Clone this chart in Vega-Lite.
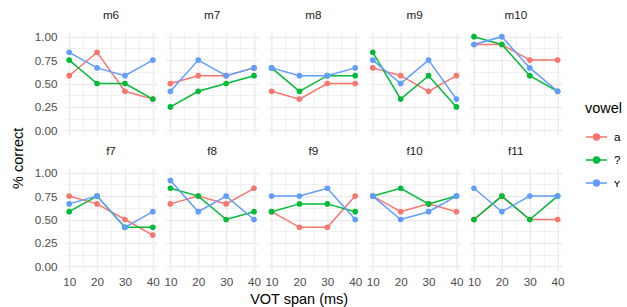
{
  "$schema": "https://vega.github.io/schema/vega-lite/v6.json",
  "padding": {"left": 10, "top": 10, "right": 5, "bottom": 1},
  "background": "white",
  "config": {
    "font": "Liberation Sans",
    "view": {"stroke": null},
    "axis": {"domain": false, "ticks": false, "labelColor": "#4D4D4D", "labelFontSize": 11.7, "gridColor": "#EBEBEB"},
    "header": {"labelFontSize": 11.7, "labelColor": "#1A1A1A", "labelFont": "Liberation Sans"},
    "title": {"fontSize": 14.5, "fontWeight": "normal", "color": "black", "font": "Liberation Sans"}
  },
  "title": {"text": "% correct", "orient": "left", "anchor": "middle", "offset": 8},
  "hconcat": [
    {
      "title": {"text": "VOT span (ms)", "orient": "bottom", "anchor": "middle", "offset": 5},
      "data": {"values": [
        {"s":"m6","v":"a","vot":10,"p":0.5833},{"s":"m6","v":"a","vot":20,"p":0.8333},{"s":"m6","v":"a","vot":30,"p":0.4167},{"s":"m6","v":"a","vot":40,"p":0.3333},
        {"s":"m6","v":"?","vot":10,"p":0.75},{"s":"m6","v":"?","vot":20,"p":0.5},{"s":"m6","v":"?","vot":30,"p":0.5},{"s":"m6","v":"?","vot":40,"p":0.3333},
        {"s":"m6","v":"ʏ","vot":10,"p":0.8333},{"s":"m6","v":"ʏ","vot":20,"p":0.6667},{"s":"m6","v":"ʏ","vot":30,"p":0.5833},{"s":"m6","v":"ʏ","vot":40,"p":0.75},
        {"s":"m7","v":"a","vot":10,"p":0.5},{"s":"m7","v":"a","vot":20,"p":0.5833},{"s":"m7","v":"a","vot":30,"p":0.5833},{"s":"m7","v":"a","vot":40,"p":0.6667},
        {"s":"m7","v":"?","vot":10,"p":0.25},{"s":"m7","v":"?","vot":20,"p":0.4167},{"s":"m7","v":"?","vot":30,"p":0.5},{"s":"m7","v":"?","vot":40,"p":0.5833},
        {"s":"m7","v":"ʏ","vot":10,"p":0.4167},{"s":"m7","v":"ʏ","vot":20,"p":0.75},{"s":"m7","v":"ʏ","vot":30,"p":0.5833},{"s":"m7","v":"ʏ","vot":40,"p":0.6667},
        {"s":"m8","v":"a","vot":10,"p":0.4167},{"s":"m8","v":"a","vot":20,"p":0.3333},{"s":"m8","v":"a","vot":30,"p":0.5},{"s":"m8","v":"a","vot":40,"p":0.5},
        {"s":"m8","v":"?","vot":10,"p":0.6667},{"s":"m8","v":"?","vot":20,"p":0.4167},{"s":"m8","v":"?","vot":30,"p":0.5833},{"s":"m8","v":"?","vot":40,"p":0.5833},
        {"s":"m8","v":"ʏ","vot":10,"p":0.6667},{"s":"m8","v":"ʏ","vot":20,"p":0.5833},{"s":"m8","v":"ʏ","vot":30,"p":0.5833},{"s":"m8","v":"ʏ","vot":40,"p":0.6667},
        {"s":"m9","v":"a","vot":10,"p":0.6667},{"s":"m9","v":"a","vot":20,"p":0.5833},{"s":"m9","v":"a","vot":30,"p":0.4167},{"s":"m9","v":"a","vot":40,"p":0.5833},
        {"s":"m9","v":"?","vot":10,"p":0.8333},{"s":"m9","v":"?","vot":20,"p":0.3333},{"s":"m9","v":"?","vot":30,"p":0.5833},{"s":"m9","v":"?","vot":40,"p":0.25},
        {"s":"m9","v":"ʏ","vot":10,"p":0.75},{"s":"m9","v":"ʏ","vot":20,"p":0.5},{"s":"m9","v":"ʏ","vot":30,"p":0.75},{"s":"m9","v":"ʏ","vot":40,"p":0.3333},
        {"s":"m10","v":"a","vot":10,"p":0.9167},{"s":"m10","v":"a","vot":20,"p":0.9167},{"s":"m10","v":"a","vot":30,"p":0.75},{"s":"m10","v":"a","vot":40,"p":0.75},
        {"s":"m10","v":"?","vot":10,"p":1.0},{"s":"m10","v":"?","vot":20,"p":0.9167},{"s":"m10","v":"?","vot":30,"p":0.5833},{"s":"m10","v":"?","vot":40,"p":0.4167},
        {"s":"m10","v":"ʏ","vot":10,"p":0.9167},{"s":"m10","v":"ʏ","vot":20,"p":1.0},{"s":"m10","v":"ʏ","vot":30,"p":0.6667},{"s":"m10","v":"ʏ","vot":40,"p":0.4167},
        {"s":"f7","v":"a","vot":10,"p":0.75},{"s":"f7","v":"a","vot":20,"p":0.6667},{"s":"f7","v":"a","vot":30,"p":0.5},{"s":"f7","v":"a","vot":40,"p":0.3333},
        {"s":"f7","v":"?","vot":10,"p":0.5833},{"s":"f7","v":"?","vot":20,"p":0.75},{"s":"f7","v":"?","vot":30,"p":0.4167},{"s":"f7","v":"?","vot":40,"p":0.4167},
        {"s":"f7","v":"ʏ","vot":10,"p":0.6667},{"s":"f7","v":"ʏ","vot":20,"p":0.75},{"s":"f7","v":"ʏ","vot":30,"p":0.4167},{"s":"f7","v":"ʏ","vot":40,"p":0.5833},
        {"s":"f8","v":"a","vot":10,"p":0.6667},{"s":"f8","v":"a","vot":20,"p":0.75},{"s":"f8","v":"a","vot":30,"p":0.6667},{"s":"f8","v":"a","vot":40,"p":0.8333},
        {"s":"f8","v":"?","vot":10,"p":0.8333},{"s":"f8","v":"?","vot":20,"p":0.75},{"s":"f8","v":"?","vot":30,"p":0.5},{"s":"f8","v":"?","vot":40,"p":0.5833},
        {"s":"f8","v":"ʏ","vot":10,"p":0.9167},{"s":"f8","v":"ʏ","vot":20,"p":0.5833},{"s":"f8","v":"ʏ","vot":30,"p":0.75},{"s":"f8","v":"ʏ","vot":40,"p":0.5},
        {"s":"f9","v":"a","vot":10,"p":0.5833},{"s":"f9","v":"a","vot":20,"p":0.4167},{"s":"f9","v":"a","vot":30,"p":0.4167},{"s":"f9","v":"a","vot":40,"p":0.75},
        {"s":"f9","v":"?","vot":10,"p":0.5833},{"s":"f9","v":"?","vot":20,"p":0.6667},{"s":"f9","v":"?","vot":30,"p":0.6667},{"s":"f9","v":"?","vot":40,"p":0.5833},
        {"s":"f9","v":"ʏ","vot":10,"p":0.75},{"s":"f9","v":"ʏ","vot":20,"p":0.75},{"s":"f9","v":"ʏ","vot":30,"p":0.8333},{"s":"f9","v":"ʏ","vot":40,"p":0.5},
        {"s":"f10","v":"a","vot":10,"p":0.75},{"s":"f10","v":"a","vot":20,"p":0.5833},{"s":"f10","v":"a","vot":30,"p":0.6667},{"s":"f10","v":"a","vot":40,"p":0.5833},
        {"s":"f10","v":"?","vot":10,"p":0.75},{"s":"f10","v":"?","vot":20,"p":0.8333},{"s":"f10","v":"?","vot":30,"p":0.6667},{"s":"f10","v":"?","vot":40,"p":0.75},
        {"s":"f10","v":"ʏ","vot":10,"p":0.75},{"s":"f10","v":"ʏ","vot":20,"p":0.5},{"s":"f10","v":"ʏ","vot":30,"p":0.5833},{"s":"f10","v":"ʏ","vot":40,"p":0.75},
        {"s":"f11","v":"a","vot":10,"p":0.5},{"s":"f11","v":"a","vot":20,"p":0.75},{"s":"f11","v":"a","vot":30,"p":0.5},{"s":"f11","v":"a","vot":40,"p":0.5},
        {"s":"f11","v":"?","vot":10,"p":0.5},{"s":"f11","v":"?","vot":20,"p":0.75},{"s":"f11","v":"?","vot":30,"p":0.5},{"s":"f11","v":"?","vot":40,"p":0.75},
        {"s":"f11","v":"ʏ","vot":10,"p":0.8333},{"s":"f11","v":"ʏ","vot":20,"p":0.5833},{"s":"f11","v":"ʏ","vot":30,"p":0.75},{"s":"f11","v":"ʏ","vot":40,"p":0.75}
      ]},
      "facet": {
        "field": "s", "type": "nominal",
        "sort": ["m6","m7","m8","m9","m10","f7","f8","f9","f10","f11"],
        "header": {"title": null, "labelPadding": 10}
      },
      "columns": 5,
      "spacing": {"column": 9.2, "row": 11},
      "spec": {
        "width": 92,
        "height": 103,
        "encoding": {
          "x": {"field": "vot", "type": "quantitative",
            "scale": {"domain": [8.5, 41.5], "nice": false, "zero": false},
            "axis": {"title": null, "values": [10,15,20,25,30,35,40], "labelExpr": "datum.value % 10 === 0 ? datum.label : ''", "labelPadding": 5, "labelFlush": false,
              "gridWidth": {"condition": {"test": "datum.value % 10 === 0", "value": 1.4}, "value": 0.7}}},
          "y": {"field": "p", "type": "quantitative",
            "scale": {"domain": [-0.05, 1.05], "nice": false, "zero": false},
            "axis": {"title": null, "values": [0,0.125,0.25,0.375,0.5,0.625,0.75,0.875,1], "format": ".2f", "labelExpr": "(datum.value * 4) % 1 === 0 ? datum.label : ''", "labelPadding": 8,
              "gridWidth": {"condition": {"test": "(datum.value * 4) % 1 === 0", "value": 1.4}, "value": 0.7}}},
          "color": {"field": "v", "type": "nominal",
            "scale": {"domain": ["a","?","ʏ"], "range": ["#F8766D","#00BA38","#619CFF"]},
            "legend": {"title": "vowel", "titleFontSize": 14.5, "titleFontWeight": "normal", "titleColor": "black", "titlePadding": 9,
              "labelFontSize": 11.7, "labelColor": "black", "labelOffset": 6, "rowPadding": 4,
              "orient": "none", "legendX": 520, "legendY": 70,
              "symbolType": "M-1,0H1M-0.28,0A0.28,0.28 0 1,0 0.28,0A0.28,0.28 0 1,0 -0.28,0Z",
              "symbolSize": 441, "symbolStrokeWidth": 1.5}}
        },
        "layer": [
          {"mark": {"type": "line", "strokeWidth": 1.5}},
          {"mark": {"type": "point", "filled": true, "size": 32, "opacity": 1}}
        ]
      }
    }
  ]
}
